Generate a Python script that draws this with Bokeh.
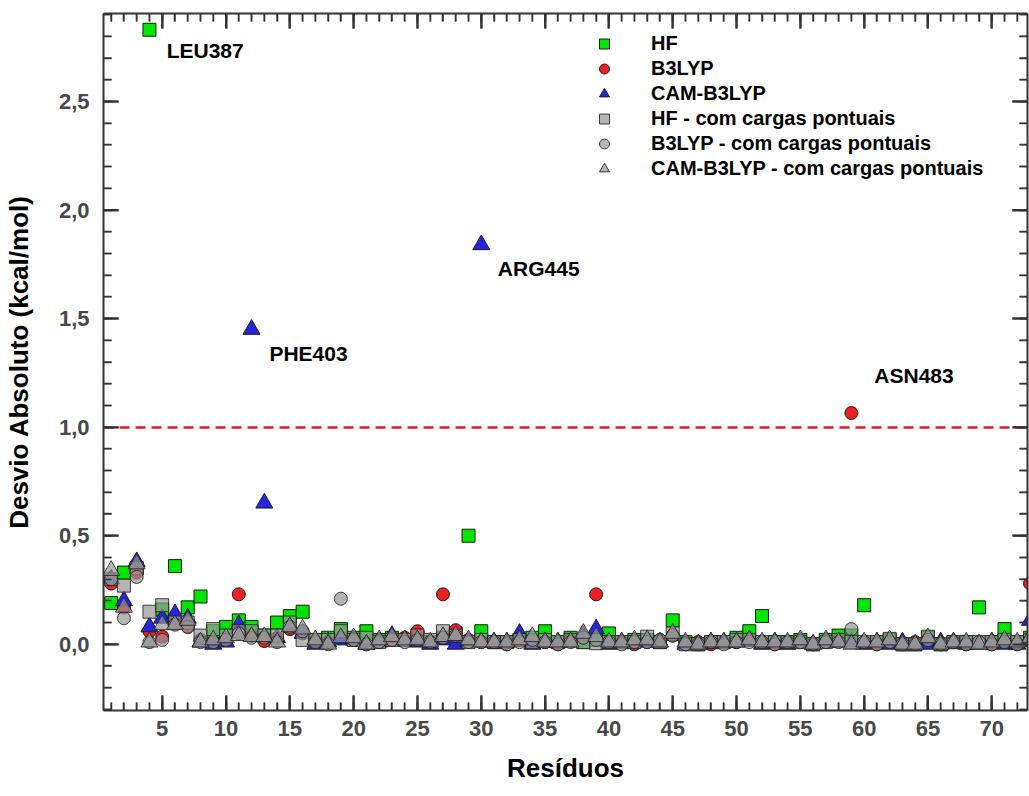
import math
from bokeh.plotting import figure
from bokeh.models import (LinearAxis, FixedTicker, CustomJSTickFormatter, Legend,
                          LegendItem, ColumnDataSource, Range1d)
from bokeh.core.properties import value
from bokeh.embed import file_html
from bokeh.resources import INLINE

# ---------------- data ----------------
residues = list(range(1, 74))

hf = [0.19, 0.33, 0.35, 2.83, 0.16, 0.36, 0.17, 0.22, 0.06, 0.08,
      0.11, 0.08, 0.04, 0.10, 0.13, 0.15, 0.02, 0.03, 0.07, 0.03,
      0.06, 0.02, 0.03, 0.02, 0.03, 0.01, 0.03, 0.05, 0.50, 0.06,
      0.01, 0.01, 0.02, 0.03, 0.06, 0.01, 0.03, 0.01, 0.02, 0.05,
      0.01, 0.02, 0.02, 0.01, 0.11, 0.01, 0.00, 0.01, 0.01, 0.03,
      0.06, 0.13, 0.01, 0.01, 0.02, 0.00, 0.02, 0.04, 0.04, 0.18,
      0.01, 0.02, 0.00, 0.00, 0.03, 0.00, 0.01, 0.01, 0.17, 0.01,
      0.07, 0.01, 0.03]

b3lyp = [0.28, 0.17, 0.33, 0.06, 0.035, 0.10, 0.08, 0.02, 0.01, 0.02,
         0.23, 0.04, 0.015, 0.03, 0.07, 0.05, 0.01, 0.01, 0.03, 0.02,
         0.00, 0.01, 0.02, 0.03, 0.06, 0.01, 0.23, 0.065, 0.02, 0.01,
         0.01, 0.00, 0.02, 0.01, 0.01, 0.00, 0.02, 0.03, 0.23, 0.01,
         0.01, 0.00, 0.01, 0.02, 0.04, 0.00, 0.01, 0.00, 0.01, 0.01,
         0.02, 0.01, 0.00, 0.01, 0.01, 0.00, 0.01, 0.02, 1.065, 0.01,
         0.00, 0.01, 0.00, 0.01, 0.02, 0.00, 0.01, 0.00, 0.01, 0.00,
         0.01, 0.00, 0.28]

cam_b3lyp = [0.30, 0.20, 0.38, 0.08, 0.12, 0.14, 0.12, 0.01, 0.00, 0.01,
             0.09, 1.45, 0.65, 0.03, 0.08, 0.05, 0.00, 0.01, 0.02, 0.02,
             0.00, 0.01, 0.04, 0.02, 0.01, 0.00, 0.02, 0.00, 0.01, 1.84,
             0.01, 0.01, 0.05, 0.00, 0.01, 0.01, 0.01, 0.04, 0.07, 0.00,
             0.01, 0.01, 0.01, 0.01, 0.04, 0.00, 0.00, 0.01, 0.01, 0.01,
             0.02, 0.00, 0.01, 0.00, 0.01, 0.00, 0.01, 0.01, 0.01, 0.00,
             0.01, 0.00, 0.01, 0.00, 0.00, 0.01, 0.01, 0.00, 0.00, 0.01,
             0.00, 0.00, 0.11]

hf_pc = [0.30, 0.27, 0.35, 0.15, 0.18, 0.10, 0.10, 0.04, 0.07, 0.04,
         0.06, 0.06, 0.04, 0.04, 0.10, 0.02, 0.02, 0.02, 0.06, 0.02,
         0.03, 0.01, 0.02, 0.02, 0.04, 0.02, 0.06, 0.04, 0.01, 0.02,
         0.01, 0.01, 0.02, 0.01, 0.02, 0.01, 0.02, 0.01, 0.005, 0.01,
         0.01, 0.01, 0.035, 0.01, 0.05, 0.00, 0.00, 0.01, 0.01, 0.02,
         0.02, 0.01, 0.01, 0.01, 0.01, 0.00, 0.01, 0.02, 0.01, 0.01,
         0.01, 0.025, 0.00, 0.00, 0.035, 0.00, 0.01, 0.01, 0.01, 0.01,
         0.02, 0.01, 0.02]

b3lyp_pc = [0.30, 0.12, 0.31, 0.01, 0.02, 0.09, 0.08, 0.01, 0.01, 0.02,
            0.05, 0.03, 0.03, 0.01, 0.08, 0.06, 0.01, 0.00, 0.21, 0.02,
            0.00, 0.01, 0.02, 0.01, 0.02, 0.01, 0.03, 0.04, 0.01, 0.01,
            0.01, 0.00, 0.01, 0.02, 0.01, 0.00, 0.01, 0.03, 0.02, 0.01,
            0.00, 0.01, 0.01, 0.02, 0.04, 0.00, 0.00, 0.01, 0.00, 0.01,
            0.01, 0.01, 0.00, 0.01, 0.01, 0.00, 0.01, 0.01, 0.07, 0.01,
            0.00, 0.01, 0.00, 0.00, 0.02, 0.00, 0.01, 0.00, 0.01, 0.00,
            0.01, 0.00, 0.02]

cam_b3lyp_pc = [0.34, 0.17, 0.37, 0.01, 0.09, 0.09, 0.11, 0.01, 0.02, 0.03,
                0.04, 0.035, 0.035, 0.01, 0.08, 0.07, 0.02, 0.00, 0.03, 0.03,
                0.00, 0.02, 0.035, 0.02, 0.02, 0.01, 0.035, 0.04, 0.02, 0.01,
                0.01, 0.01, 0.02, 0.035, 0.01, 0.01, 0.01, 0.05, 0.035, 0.01,
                0.01, 0.02, 0.02, 0.01, 0.05, 0.01, 0.00, 0.01, 0.01, 0.01,
                0.02, 0.01, 0.01, 0.01, 0.02, 0.00, 0.02, 0.01, 0.00, 0.01,
                0.01, 0.02, 0.00, 0.00, 0.03, 0.00, 0.01, 0.01, 0.00, 0.01,
                0.02, 0.01, 0.03]

series_labels = ["HF", "B3LYP", "CAM-B3LYP", "HF - com cargas pontuais",
                 "B3LYP - com cargas pontuais", "CAM-B3LYP - com cargas pontuais"]

ann_text = ["LEU387", "PHE403", "ARG445", "ASN483"]
ann_x = [5.35, 13.4, 31.3, 60.8]
ann_y = [2.735, 1.34, 1.73, 1.24]

threshold = [1.0]

x_lo, x_hi = 0.4, 72.8
y_lo, y_hi = -0.305, 2.905

x_major = [5, 10, 15, 20, 25, 30, 35, 40, 45, 50, 55, 60, 65, 70]
x_minor = list(range(1, 73))
y_major = [0.0, 0.5, 1.0, 1.5, 2.0, 2.5]
y_minor = [round(-0.3 + 0.1 * i, 1) for i in range(33)]

# ---------------- figure ----------------
FONT = "Liberation Sans"
AX = "#333333"

p = figure(width=1029, height=796, x_range=Range1d(x_lo, x_hi), y_range=Range1d(y_lo, y_hi),
           output_backend="svg", toolbar_location=None,
           min_border_left=101, min_border_right=2, min_border_top=13, min_border_bottom=86,
           x_axis_label="Resíduos", y_axis_label="Desvio Absoluto (kcal/mol)")
p.xgrid.grid_line_color = None
p.ygrid.grid_line_color = None
p.outline_line_color = None


def style(ax):
    ax.axis_line_color = AX
    ax.axis_line_width = 2
    ax.major_tick_line_color = AX
    ax.major_tick_line_width = 2
    ax.minor_tick_line_color = AX
    ax.minor_tick_line_width = 1.5
    ax.major_tick_in = 15
    ax.major_tick_out = 0
    ax.minor_tick_in = 8
    ax.minor_tick_out = 0
    ax.major_label_text_font = FONT
    ax.major_label_text_font_style = "bold"
    ax.major_label_text_font_size = "22px"
    ax.major_label_text_color = "#484848"
    ax.axis_label_text_font = FONT
    ax.axis_label_text_font_style = "bold"
    ax.axis_label_text_font_size = "26px"
    ax.axis_label_text_color = "black"


xa = p.xaxis[0]
xa.ticker = FixedTicker(ticks=x_major, minor_ticks=x_minor)
style(xa)
xa.major_label_standoff = 10
xa.axis_label_standoff = 14

ya = p.yaxis[0]
ya.ticker = FixedTicker(ticks=y_major, minor_ticks=y_minor)
ya.formatter = CustomJSTickFormatter(code="return tick.toFixed(1).replace('.', ',');")
style(ya)
ya.major_label_standoff = 14
ya.axis_label_standoff = 22

top = LinearAxis(ticker=FixedTicker(ticks=x_major, minor_ticks=x_minor),
                 formatter=CustomJSTickFormatter(code="return '';"))
style(top)
top.major_label_standoff = 0
right = LinearAxis(ticker=FixedTicker(ticks=y_major, minor_ticks=y_minor),
                   formatter=CustomJSTickFormatter(code="return '';"))
style(right)
right.major_label_standoff = 0
p.add_layout(top, "above")
p.add_layout(right, "right")

# inward tick marks on all four sides (dash markers centred on the frame edge;
# the outer half is clipped away by the frame)
VERT = math.pi / 2
for xs_, size_, lw in ((x_major, 30, 2), (x_minor, 16, 1.5)):
    for yy in (y_lo, y_hi):
        p.scatter(xs_, [yy] * len(xs_), marker="dash", size=size_, angle=VERT,
                  line_color=AX, line_width=lw)
for ys_, size_, lw in ((y_major, 30, 2), (y_minor, 16, 1.5)):
    for xx in (x_lo, x_hi):
        p.scatter([xx] * len(ys_), ys_, marker="dash", size=size_, angle=0,
                  line_color=AX, line_width=lw)

# threshold line
p.hspan(y=threshold, line_color="#e8191c", line_width=2.5, line_dash="10 6")

src = ColumnDataSource(dict(x=residues, hf=hf, b3lyp=b3lyp, cam=cam_b3lyp,
                            hf_pc=hf_pc, b3lyp_pc=b3lyp_pc, cam_pc=cam_b3lyp_pc))

r1 = p.scatter("x", "hf", source=src, marker="square", size=13, fill_color="#00e600",
               line_color="#1a1a1a", line_width=1)
r2 = p.scatter("x", "b3lyp", source=src, marker="circle", size=13, fill_color="#ee2222",
               line_color="#1a1a1a", line_width=1)
r3 = p.scatter("x", "cam", source=src, marker="triangle", size=17, fill_color="#2626e0",
               line_color="#1a1a1a", line_width=1)
GRAY = "#959595"
r4 = p.scatter("x", "hf_pc", source=src, marker="square", size=13, fill_color=GRAY,
               fill_alpha=0.7, line_color="#222222", line_alpha=0.85, line_width=1)
r5 = p.scatter("x", "b3lyp_pc", source=src, marker="circle", size=13, fill_color=GRAY,
               fill_alpha=0.7, line_color="#222222", line_alpha=0.85, line_width=1)
r6 = p.scatter("x", "cam_pc", source=src, marker="triangle", size=17, fill_color=GRAY,
               fill_alpha=0.7, line_color="#222222", line_alpha=0.85, line_width=1)

ann_src = ColumnDataSource(dict(x=ann_x, y=ann_y, t=ann_text))
p.text("x", "y", text="t", source=ann_src, text_font=value(FONT), text_font_style="bold",
       text_font_size="21px", text_color="black", text_baseline="middle", text_align="left")

legend = Legend(items=[LegendItem(label=lab, renderers=[r]) for lab, r in
                       zip(series_labels, [r1, r2, r3, r4, r5, r6])],
                location=(486, 529), label_text_font=FONT, label_text_font_style="bold",
                label_text_font_size="20px", label_text_color="black",
                glyph_width=30, glyph_height=25, label_height=25, spacing=0,
                padding=0, margin=0, label_standoff=32,
                border_line_color=None, background_fill_alpha=0)
p.add_layout(legend)

open("out.html", "w").write(file_html(p, INLINE))
